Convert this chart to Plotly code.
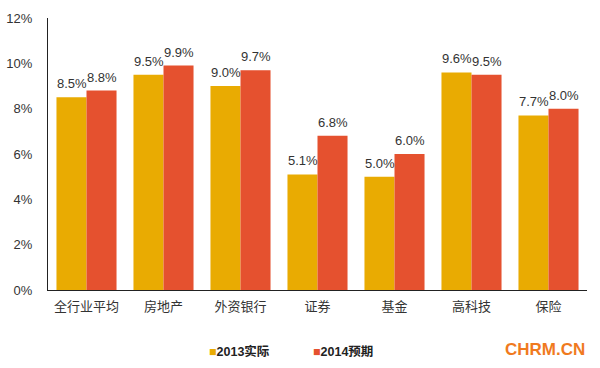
import plotly.graph_objects as go

categories = ["全行业平均", "房地产", "外资银行", "证券", "基金", "高科技", "保险"]
actual_2013 = [8.5, 9.5, 9.0, 5.1, 5.0, 9.6, 7.7]
forecast_2014 = [8.8, 9.9, 9.7, 6.8, 6.0, 9.5, 8.0]
series_names = ["2013实际", "2014预期"]
y_ticks = [0, 2, 4, 6, 8, 10, 12]
colors = ["#E9AB02", "#E5512F"]

font_main = "Liberation Sans, Arial, Noto Sans CJK SC, sans-serif"

fig = go.Figure()
for name, vals, color in [(series_names[0], actual_2013, colors[0]),
                          (series_names[1], forecast_2014, colors[1])]:
    fig.add_trace(go.Bar(
        x=categories, y=vals, name=name, marker_color=color, marker_line_width=0,
        showlegend=False, hoverinfo="x+y+name",
    ))

value_ann = []
for shift, vals in [(-15, actual_2013), (15, forecast_2014)]:
    for c, v in zip(categories, vals):
        value_ann.append(dict(
            x=c, y=v, xref="x", yref="y", text=f"{v:.1f}%", showarrow=False,
            xshift=shift, yshift=4, xanchor="center", yanchor="bottom",
            font=dict(size=13, color="#333333", family=font_main),
        ))

legend_ann = []
for i, (name, color) in enumerate(zip(series_names, colors)):
    legend_ann.append(dict(
        text=f"<span style='color:{color}'>■</span><b>{name}</b>",
        xref="paper", yref="paper", x=(207 + i * 104 - 48) / 539, y=(290 - 352) / 273,
        xanchor="left", yanchor="middle", showarrow=False,
        font=dict(size=12.5, color="#222222", family="Liberation Sans, Noto Sans CJK SC, sans-serif"),
    ))

fig.update_layout(
    width=600, height=368,
    margin=dict(l=48, r=13, t=18, b=78, autoexpand=False),
    paper_bgcolor="white", plot_bgcolor="white",
    barmode="group", bargap=0.22, bargroupgap=0,
    font=dict(family=font_main, size=13, color="#333333"),
    showlegend=False,
    xaxis=dict(showline=True, linecolor="#222222", linewidth=1.2, ticks="", automargin=False,
               ticklabelstandoff=4,
               tickfont=dict(size=13, family="Noto Sans CJK SC, sans-serif", color="#333333")),
    yaxis=dict(range=[0, 12], tickvals=y_ticks, ticktext=[f"{t}%" for t in y_ticks],
               showgrid=False, zeroline=False, showline=True, linecolor="#222222",
               linewidth=1.2, ticks="", automargin=False, ticklabelstandoff=12,
               tickfont=dict(size=13, color="#333333")),
    annotations=value_ann + legend_ann + [dict(text="<b>CHRM.CN</b>", xref="paper", yref="paper", x=1.0,
                      y=(290 - 350) / 273, xanchor="right", yanchor="middle", showarrow=False,
                      font=dict(size=17, color="#F07A1E", family="Liberation Sans, Arial, sans-serif"))],
)

fig.write_html("out.html", post_script="document.body.style.margin='0';",
               config={"displayModeBar": False})
